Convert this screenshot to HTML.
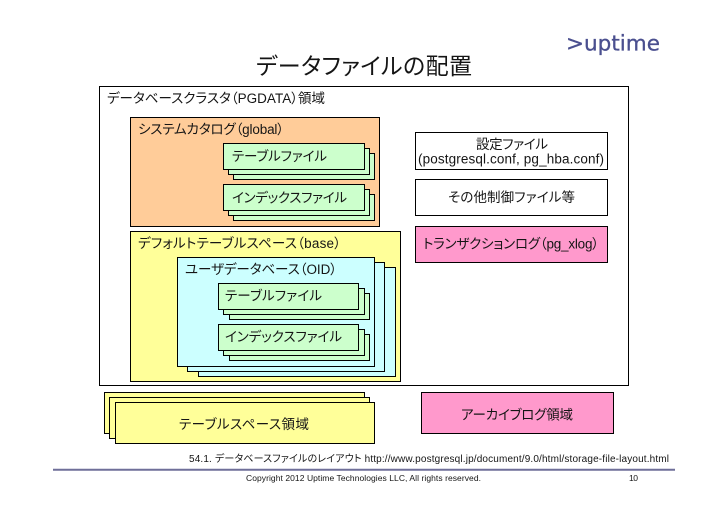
<!DOCTYPE html>
<html lang="ja">
<head>
<meta charset="utf-8">
<title>データファイルの配置</title>
<style>
html,body{margin:0;padding:0;width:728px;height:515px;background:#fff;overflow:hidden}
svg{display:block}
text{font-family:"Liberation Sans","Noto Sans CJK JP",sans-serif;font-size:13.5px;fill:#151515;font-feature-settings:"palt" 1}
rect{stroke:#000;stroke-width:1}
</style>
</head>
<body>
<svg width="728" height="515" viewBox="0 0 728 515" xmlns="http://www.w3.org/2000/svg">
<!-- Title and logo -->
<text x="256" y="74" textLength="216" style="font-size:23px">データファイルの配置</text>
<text x="566" y="50.5" textLength="94" style="font-family:'DejaVu Sans',sans-serif;font-size:21.5px;fill:#4a4f8f;stroke:#4a4f8f;stroke-width:.3px">&gt;uptime</text>

<!-- Outer cluster -->
<rect x="99.5" y="86.5" width="529" height="299" fill="#fff"/>
<text x="107" y="103" textLength="218">データベースクラスタ（PGDATA）領域</text>

<!-- System catalog -->
<rect x="130.5" y="117.5" width="249" height="109" fill="#FFCC99"/>
<text x="138" y="134" textLength="146">システムカタログ（global）</text>
<rect x="233.5" y="153.5" width="141" height="26" fill="#CCFFCC"/>
<rect x="228.5" y="148.5" width="141" height="26" fill="#CCFFCC"/>
<rect x="223.5" y="143.5" width="141" height="26" fill="#CCFFCC"/>
<text x="232" y="161" textLength="95">テーブルファイル</text>
<rect x="233.5" y="194.5" width="141" height="26" fill="#CCFFCC"/>
<rect x="228.5" y="189.5" width="141" height="26" fill="#CCFFCC"/>
<rect x="223.5" y="184.5" width="141" height="26" fill="#CCFFCC"/>
<text x="232" y="202.5" textLength="115">インデックスファイル</text>

<!-- Right column -->
<rect x="415.5" y="132.5" width="192" height="37" fill="#fff"/>
<text x="476" y="149" textLength="72">設定ファイル</text>
<text x="418" y="163.5" textLength="186">(postgresql.conf, pg_hba.conf)</text>
<rect x="415.5" y="179.5" width="192" height="36" fill="#fff"/>
<text x="448" y="202" textLength="127">その他制御ファイル等</text>
<rect x="415.5" y="226.5" width="192" height="36" fill="#FF99CC"/>
<text x="423" y="248.5" textLength="176">トランザクションログ（pg_xlog）</text>

<!-- Default tablespace -->
<rect x="130.5" y="231.5" width="270" height="150" fill="#FFFF99"/>
<text x="138" y="248" textLength="203">デフォルトテーブルスペース（base）</text>
<rect x="198.5" y="267.5" width="197" height="109" fill="#CCFFFF"/>
<rect x="187.5" y="262.5" width="197" height="109" fill="#CCFFFF"/>
<rect x="177.5" y="257.5" width="197" height="109" fill="#CCFFFF"/>
<text x="185" y="274" textLength="152">ユーザデータベース（OID）</text>
<rect x="229.5" y="293.5" width="140" height="26" fill="#CCFFCC"/>
<rect x="223.5" y="288.5" width="141" height="26" fill="#CCFFCC"/>
<rect x="218.5" y="283.5" width="140" height="26" fill="#CCFFCC"/>
<text x="225" y="300.5" textLength="97">テーブルファイル</text>
<rect x="229.5" y="334.5" width="140" height="26" fill="#CCFFCC"/>
<rect x="223.5" y="329.5" width="141" height="26" fill="#CCFFCC"/>
<rect x="218.5" y="324.5" width="140" height="26" fill="#CCFFCC"/>
<text x="225" y="341.5" textLength="117">インデックスファイル</text>

<!-- Tablespace area -->
<rect x="104.5" y="392.5" width="260" height="41" fill="#FFFF99"/>
<rect x="109.5" y="397.5" width="260" height="41" fill="#FFFF99"/>
<rect x="115.5" y="402.5" width="259" height="41" fill="#FFFF99"/>
<text x="179" y="429" textLength="130">テーブルスペース領域</text>

<!-- Archive area -->
<rect x="421.5" y="392.5" width="192" height="41" fill="#FF99CC"/>
<text x="461" y="419.5" textLength="112">アーカイブログ領域</text>

<!-- Footer -->
<text x="189" y="462" textLength="480" style="font-size:10px">54.1. データベースファイルのレイアウト http://www.postgresql.jp/document/9.0/html/storage-file-layout.html</text>
<line x1="53" y1="469.8" x2="675" y2="469.8" stroke="#6f6f99" stroke-width="2"/>
<text x="246" y="481" textLength="235" style="font-size:8.5px">Copyright 2012 Uptime Technologies LLC, All rights reserved.</text>
<text x="629" y="481" textLength="9" style="font-size:8.5px">10</text>
</svg>
</body>
</html>
